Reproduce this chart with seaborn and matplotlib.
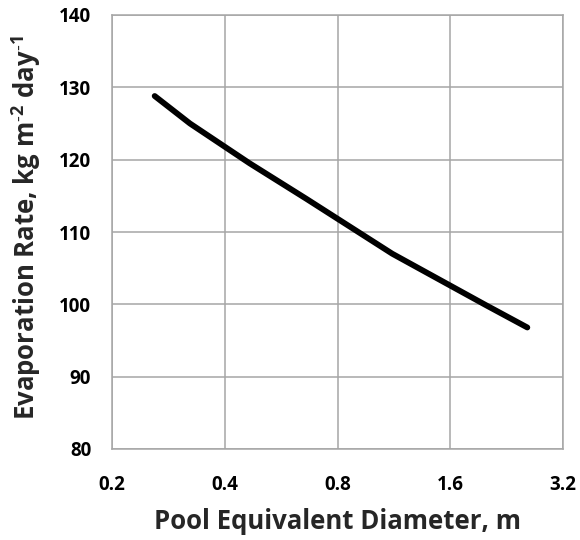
import matplotlib
matplotlib.use("Agg")
import matplotlib.pyplot as plt
import seaborn as sns
import pandas as pd
from matplotlib.ticker import FixedLocator, FixedFormatter, NullLocator

diameter = [0.26, 0.323, 0.466, 0.66, 1.12, 1.99, 2.57]
evap_rate = [128.8, 125.0, 119.5, 114.6, 107.0, 99.9, 96.8]
x_ticks = [0.2, 0.4, 0.8, 1.6, 3.2]
x_labels = ["0.2", "0.4", "0.8", "1.6", "3.2"]
y_ticks = [80, 90, 100, 110, 120, 130, 140]

sns.set_theme(style="white")
plt.rcParams['font.family'] = ['Open Sans', 'DejaVu Sans']
plt.rcParams['mathtext.fontset'] = 'custom'
plt.rcParams['mathtext.bf'] = 'Open Sans:bold'
plt.rcParams['mathtext.rm'] = 'Open Sans:bold'

df = pd.DataFrame({"d": diameter, "e": evap_rate})
fig = plt.figure(figsize=(5.8, 5.4), dpi=100)
ax = fig.add_axes([112/580, 1-449/540, (563-112)/580, (449-15)/540])
sns.lineplot(data=df, x="d", y="e", ax=ax, color="black", linewidth=4.2,
             solid_capstyle="round", solid_joinstyle="round")
ax.set_xscale("log", base=2)
ax.set_xlim(0.2, 3.2)
ax.set_ylim(80, 140)
ax.xaxis.set_major_locator(FixedLocator(x_ticks))
ax.xaxis.set_major_formatter(FixedFormatter(x_labels))
ax.xaxis.set_minor_locator(NullLocator())
ax.set_yticks(y_ticks)
ax.grid(True, color="#a6a6a6", linewidth=1.1)
for s in ax.spines.values():
    s.set_color("#a6a6a6")
    s.set_linewidth(1.1)
ax.tick_params(axis="both", length=0, labelsize=13.5, colors="black")
ax.tick_params(axis="x", pad=19)
ax.tick_params(axis="y", pad=15)
for lbl in ax.get_xticklabels() + ax.get_yticklabels():
    lbl.set_fontweight("bold")
ax.set_xlabel("Pool Equivalent Diameter, m", fontsize=18.5, fontweight="bold")
ax.xaxis.set_label_coords(0.5, -0.135)
ax.set_ylabel("Evaporation Rate, kg m$^{\u2010\\mathbf{2}}$ day$^{\u2010\\mathbf{1}}$",
              fontsize=18.5, fontweight="bold")
ax.yaxis.set_label_coords(-0.153, 0.51)
fig.savefig("out.png", dpi=100)
